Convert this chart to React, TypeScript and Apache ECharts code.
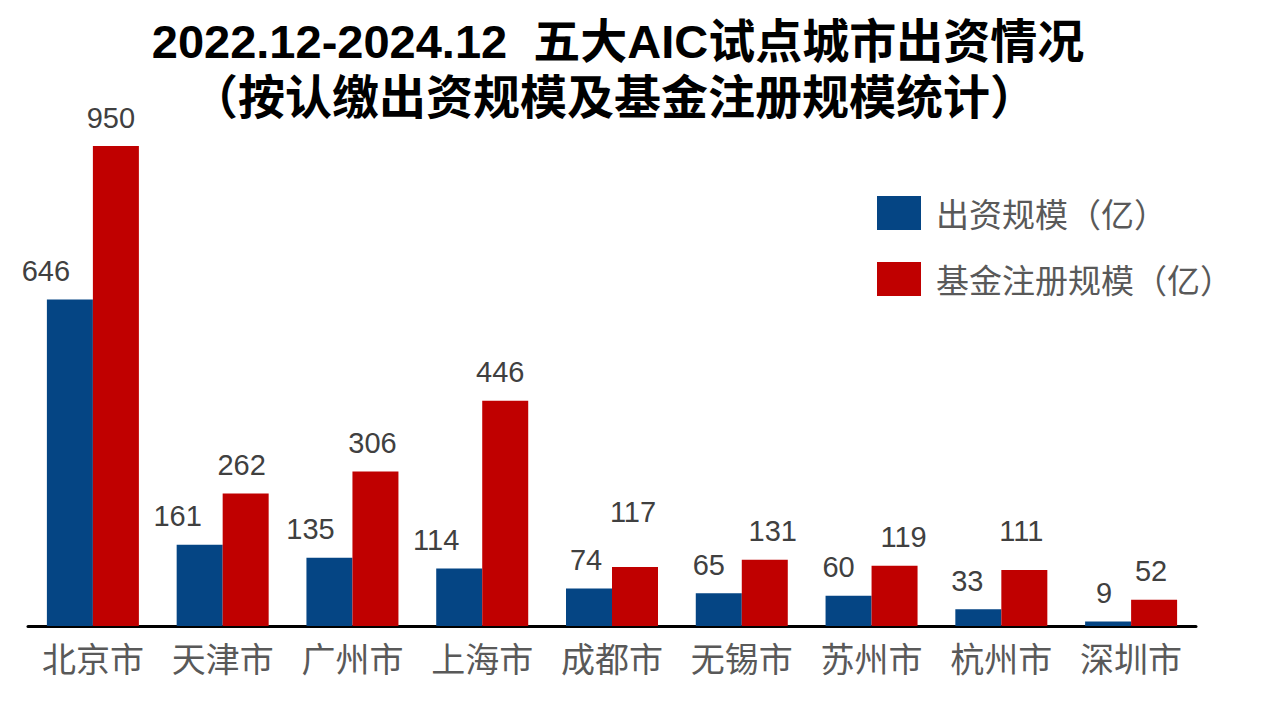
import React, { useEffect, useRef } from "react";
import * as echarts from "echarts";

const cities = ["北京市", "天津市", "广州市", "上海市", "成都市", "无锡市", "苏州市", "杭州市", "深圳市"];
const investValues = [646, 161, 135, 114, 74, 65, 60, 33, 9];
const fundValues = [950, 262, 306, 446, 117, 131, 119, 111, 52];
const seriesNames = ["出资规模（亿）", "基金注册规模（亿）"];
const titleLines = ["2022.12-2024.12  五大AIC试点城市出资情况", "（按认缴出资规模及基金注册规模统计）"];

// label nudges (pixels) reproducing the hand-placed labels of the original
const investLabelDx = [-24, -22, -19, -23, -3, -10, -10, -11, -4];
const fundLabelDx = [-5, -4, -3, -5, -2, 8, 9, -3, -3];
const fundLabelDy = [0, 0, 0, 0, -26, 0, 0, -10, 0];

const BLUE = "#054584";
const RED = "#C00000";
const NUM_FONT = "'Liberation Sans', Arial, 'Noto Sans CJK SC', sans-serif";
const CJK_FONT = "'Noto Sans CJK SC', 'Microsoft YaHei', sans-serif";
const TITLE_FONT = "'Liberation Sans', 'Noto Sans CJK SC', sans-serif";

export default function App() {
  const ref = useRef<HTMLDivElement>(null);
  useEffect(() => {
    if (!ref.current) return;
    const chart = echarts.init(ref.current, null, { renderer: "svg" });
    const labelBase = {
      show: true,
      position: "top",
      distance: 14,
      fontFamily: NUM_FONT,
      fontSize: 29,
      color: "#404040",
    };
    const titleStyle = {
      fontFamily: TITLE_FONT,
      fontSize: 47,
      fontWeight: "bold",
      color: "#000000",
      lineHeight: 47,
    };
    chart.setOption({
      animation: false,
      backgroundColor: "#ffffff",
      title: [
        { text: titleLines[0], left: 618, top: 18, textAlign: "center", padding: 0, textStyle: titleStyle },
        { text: titleLines[1], left: 614, top: 74, textAlign: "center", padding: 0, textStyle: titleStyle },
      ],
      legend: {
        orient: "vertical",
        left: 877,
        top: 196,
        padding: 0,
        itemWidth: 44,
        itemHeight: 34,
        itemGap: 32,
        icon: "rect",
        data: seriesNames,
        textStyle: {
          fontFamily: CJK_FONT,
          fontSize: 33,
          color: "#595959",
          padding: [0, 0, 0, 10],
        },
      },
      grid: { left: 28, right: 84, top: 146, bottom: 75, containLabel: false },
      xAxis: {
        type: "category",
        data: cities,
        axisLine: { show: true, lineStyle: { color: "#000000", width: 3 } },
        axisTick: { show: false },
        axisLabel: {
          interval: 0,
          fontFamily: CJK_FONT,
          fontSize: 34,
          color: "#595959",
          margin: 14,
        },
      },
      yAxis: {
        type: "value",
        min: 0,
        max: 950,
        show: false,
        splitLine: { show: false },
      },
      series: [
        {
          name: seriesNames[0],
          type: "bar",
          data: investValues.map((v, i) => ({
            value: v,
            label: { offset: [investLabelDx[i], 0] },
          })),
          barWidth: 46,
          barGap: "0%",
          itemStyle: { color: BLUE },
          label: labelBase,
        },
        {
          name: seriesNames[1],
          type: "bar",
          data: fundValues.map((v, i) => ({
            value: v,
            label: { offset: [fundLabelDx[i], fundLabelDy[i]] },
          })),
          barWidth: 46,
          barGap: "0%",
          itemStyle: { color: RED },
          label: labelBase,
        },
      ],
    });
    return () => chart.dispose();
  }, []);
  return (
    <div
      ref={ref}
      style={{ position: "fixed", left: 0, top: 0, width: 1280, height: 701, background: "#fff" }}
    />
  );
}
